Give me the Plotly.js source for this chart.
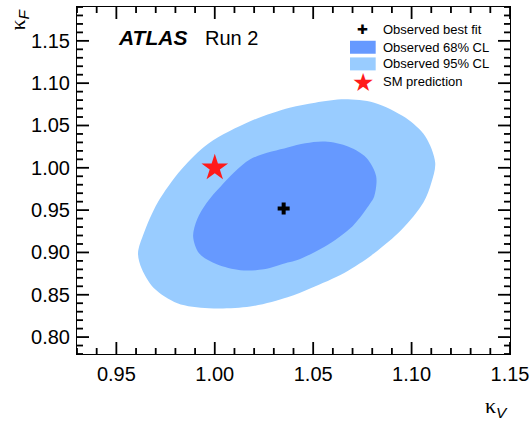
<!DOCTYPE html>
<html>
<head>
<meta charset="utf-8">
<script src="https://cdn.plot.ly/plotly-3.0.1.min.js"></script>
<style>html,body{margin:0;padding:0;background:#fff}#chart{width:531px;height:422px}</style>
</head>
<body>
<div id="chart"></div>
<script>
// Observed 95% CL contour (kappa_V, kappa_F)
var obs95_kV = [1.066, 1.081, 1.097, 1.107, 1.112, 1.110, 1.106, 1.095, 1.081, 1.066, 1.049, 1.037, 1.018, 0.997, 0.981, 0.969, 0.963, 0.961, 0.964, 0.971, 0.983, 0.997, 1.018, 1.038, 1.051, 1.066];
var obs95_kF = [1.081, 1.077, 1.059, 1.037, 1.006, 0.982, 0.959, 0.927, 0.899, 0.876, 0.858, 0.847, 0.836, 0.834, 0.840, 0.858, 0.880, 0.899, 0.923, 0.959, 0.998, 1.029, 1.055, 1.071, 1.077, 1.081];
// Observed 68% CL contour
var obs68_kV = [1.056, 1.068, 1.077, 1.082, 1.081, 1.079, 1.070, 1.056, 1.042, 1.037, 1.025, 1.013, 1.001, 0.992, 0.989, 0.991, 0.996, 1.003, 1.018, 1.037, 1.046, 1.056];
var obs68_kF = [1.031, 1.025, 1.012, 0.990, 0.966, 0.958, 0.931, 0.907, 0.891, 0.888, 0.880, 0.879, 0.886, 0.899, 0.919, 0.939, 0.959, 0.978, 1.010, 1.024, 1.029, 1.031];
// Best fit and SM prediction
var bestFit_kV = [1.035];
var bestFit_kF = [0.952];
var sm_kV = [1.0];
var sm_kF = [1.0];
// Legend entries
var legendLabels = ['Observed best fit', 'Observed 68% CL', 'Observed 95% CL', 'SM prediction'];
var color68 = '#6699ff', color95 = '#99ccff', colorSM = '#ff1a1a';

var FONT = '"Liberation Sans", Arial, Helvetica, sans-serif';
var SERIF = "'Liberation Serif', 'Times New Roman', serif";

var W = 531, H = 422, M = {l: 77, r: 21, t: 7, b: 68};
var plotW = W - M.l - M.r, plotH = H - M.t - M.b;
var xRange = [0.93, 1.15], yRange = [0.78, 1.19];

var traces = [
  {x: obs95_kV, y: obs95_kF, type: 'scatter', mode: 'lines', fill: 'toself',
   fillcolor: color95, line: {width: 0, color: color95, shape: 'spline', smoothing: 0.9},
   name: legendLabels[2], showlegend: false, hoverinfo: 'skip'},
  {x: obs68_kV, y: obs68_kF, type: 'scatter', mode: 'lines', fill: 'toself',
   fillcolor: color68, line: {width: 0, color: color68, shape: 'spline', smoothing: 0.9},
   name: legendLabels[1], showlegend: false, hoverinfo: 'skip'},
  {x: bestFit_kV, y: bestFit_kF, type: 'scatter', mode: 'markers',
   marker: {symbol: 'cross', size: 10, color: 'black'},
   name: legendLabels[0], showlegend: false},
  {x: sm_kV, y: sm_kF, type: 'scatter', mode: 'markers',
   marker: {symbol: 'star', size: 20, color: colorSM, line: {width: 0}},
   name: legendLabels[3], showlegend: false}
];

// legend geometry (paper coords)
var rowY = [0.934, 0.884, 0.836, 0.785];
var symX = 0.6605, textX = 0.701, rectX0 = 0.6305, rectX1 = 0.6898, rectHalf = 0.0187;

var annotations = [
  {xref: 'paper', yref: 'paper', x: 1.0, y: -0.152, xanchor: 'right', yanchor: 'middle', showarrow: false,
   text: '<span style="font-family:' + SERIF + '">κ</span><sub><i>V</i></sub>',
   font: {family: FONT, size: 22, color: 'black'}},
  {xref: 'paper', yref: 'paper', x: -0.135, y: 1.0, xanchor: 'center', yanchor: 'top', showarrow: false, textangle: -90,
   text: '<span style="font-family:' + SERIF + '">κ</span><sub><i>F</i></sub>',
   font: {family: FONT, size: 22, color: 'black'}},
  {xref: 'paper', yref: 'paper', x: 0.091, y: 0.912, xanchor: 'left', yanchor: 'middle', showarrow: false,
   text: '<b><i>ATLAS</i></b>', font: {family: FONT, size: 21, color: 'black'}},
  {xref: 'paper', yref: 'paper', x: 0.29, y: 0.912, xanchor: 'left', yanchor: 'middle', showarrow: false,
   text: 'Run 2', font: {family: FONT, size: 20, color: 'black'}},
  {xref: 'paper', yref: 'paper', x: symX, y: rowY[0], xanchor: 'center', yanchor: 'middle', showarrow: false,
   text: '✚', font: {family: '"DejaVu Sans"', size: 13, color: 'black'}},
  {xref: 'paper', yref: 'paper', x: symX, y: rowY[3] - 0.004, xanchor: 'center', yanchor: 'middle', showarrow: false,
   text: '★', font: {family: '"DejaVu Sans"', size: 25, color: colorSM}}
];
legendLabels.forEach(function (t, i) {
  annotations.push({xref: 'paper', yref: 'paper', x: textX, y: rowY[i], xanchor: 'left', yanchor: 'middle',
    showarrow: false, text: t, font: {family: FONT, size: 13, color: 'black'}});
});

var shapes = [
  {type: 'rect', xref: 'paper', yref: 'paper', x0: rectX0, x1: rectX1, y0: rowY[1] - rectHalf, y1: rowY[1] + rectHalf,
   fillcolor: color68, line: {width: 0}},
  {type: 'rect', xref: 'paper', yref: 'paper', x0: rectX0, x1: rectX1, y0: rowY[2] - rectHalf, y1: rowY[2] + rectHalf,
   fillcolor: color95, line: {width: 0}}
];

// Frame ticks drawn as thin filled rectangles (inside, on all four sides; major 0.05, minor 0.01)
function addTicks(axis, range) {
  var start = Math.ceil(range[0] * 100 - 1e-6), end = Math.floor(range[1] * 100 + 1e-6);
  var span = range[1] - range[0];
  for (var k = start; k <= end; k++) {
    var v = k / 100;
    var len = (k % 5 === 0) ? 12 : 6;
    if (axis === 'x') {
      var hw = 0.9 * span / plotW, lp = len / plotH;
      shapes.push({type: 'rect', xref: 'x', yref: 'paper', x0: v - hw, x1: v + hw, y0: 0, y1: lp,
                   fillcolor: 'black', line: {width: 0}, layer: 'above'});
      shapes.push({type: 'rect', xref: 'x', yref: 'paper', x0: v - hw, x1: v + hw, y0: 1 - lp, y1: 1,
                   fillcolor: 'black', line: {width: 0}, layer: 'above'});
    } else {
      var hh = 0.9 * span / plotH, lw = len / plotW;
      shapes.push({type: 'rect', xref: 'paper', yref: 'y', y0: v - hh, y1: v + hh, x0: 0, x1: lw,
                   fillcolor: 'black', line: {width: 0}, layer: 'above'});
      shapes.push({type: 'rect', xref: 'paper', yref: 'y', y0: v - hh, y1: v + hh, x0: 1 - lw, x1: 1,
                   fillcolor: 'black', line: {width: 0}, layer: 'above'});
    }
  }
}
addTicks('x', xRange);
addTicks('y', yRange);

var layout = {
  width: W, height: H,
  margin: M,
  paper_bgcolor: 'white', plot_bgcolor: 'white',
  font: {family: FONT, color: 'black'},
  showlegend: false,
  xaxis: {
    range: xRange, tickmode: 'linear', tick0: 0.95, dtick: 0.05, tickformat: '.2f',
    showgrid: false, zeroline: false, showline: true, linecolor: '#000000', linewidth: 1, mirror: true,
    ticks: '', tickfont: {family: FONT, size: 20, color: 'black'}, ticklabelstandoff: 2
  },
  yaxis: {
    range: yRange, tickmode: 'linear', tick0: 0.8, dtick: 0.05, tickformat: '.2f',
    showgrid: false, zeroline: false, showline: true, linecolor: '#000000', linewidth: 1, mirror: true,
    ticks: '', tickfont: {family: FONT, size: 20, color: 'black'}, ticklabelstandoff: 2
  },
  annotations: annotations,
  shapes: shapes
};

Plotly.newPlot('chart', traces, layout, {displayModeBar: false, staticPlot: true});
</script>
</body>
</html>
